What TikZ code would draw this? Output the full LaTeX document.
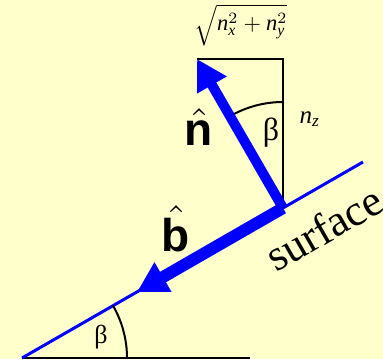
\documentclass[tikz,border=0pt]{standalone}
\usepackage{fontspec}
\setmainfont{Liberation Serif}
\newfontfamily\arialb{Liberation Sans}[BoldFont={Liberation Sans Bold}]
\usetikzlibrary{arrows.meta}
\definecolor{bg}{HTML}{FFFFCC}
\tikzset{
  thin line/.style={draw=black, line width=1.5pt},
  arc line/.style={draw=black, line width=2pt},
  vec/.style={draw=blue, line cap=butt, -{Triangle[length=30pt,width=32pt]}},
  lbl/.style={inner sep=0pt, outer sep=0pt},
}
\begin{document}
\begin{tikzpicture}[x=1pt,y=-1pt]
\useasboundingbox (0,0) rectangle (383,359);
\fill[bg] (0,0) rectangle (383,359);
% coordinates
\coordinate (O) at (283,208);
\coordinate (ntip) at (197,59);
\coordinate (btip) at (137,292);
\coordinate (topc) at (283,59);
\coordinate (s0) at (22,358);
\coordinate (s1) at (363,162);
\coordinate (h1) at (250,358);
% ground line and surface
\draw[thin line] (s0) -- (h1);
\draw[draw=blue, line width=3pt] (s0) -- (s1);
% frame lines
\draw[thin line] (ntip) -- (topc) -- (O);
% arcs
\draw[arc line] (127,358) arc[start angle=0, end angle=-30, radius=105];
\draw[arc line] (283,102) arc[start angle=-90, end angle=-120, radius=106];
% vectors
\draw[vec, line width=12pt] (O) -- (btip);
\draw[vec, line width=10pt] (O) -- (ntip);
% labels
\node[lbl, scale=4.6] (nlab) at (199,127) {$\hat{\mbox{\arialb\bfseries n}}$};
\node[lbl, scale=4.6] (blab) at (176,229) {$\hat{\mbox{\arialb\bfseries b}}$};
\node[lbl] (beta1) at (271,133) {\fontsize{32}{32}\selectfont β};
\node[lbl] (beta2) at (101,337) {\fontsize{26}{26}\selectfont β};
\node[lbl, scale=2.5] (nz) at (310,119) {$\mathit{n}_{\mathit{z}}$};
\node[lbl, scale=2.25] (sq) at (241,25) {$\sqrt{\mathit{n}_{\mathit{x}}^2+\mathit{n}_{\mathit{y}}^2}$};
\node[lbl, rotate=30] (surf) at (324,228) {\fontsize{44}{44}\selectfont surface};
\end{tikzpicture}
\end{document}
